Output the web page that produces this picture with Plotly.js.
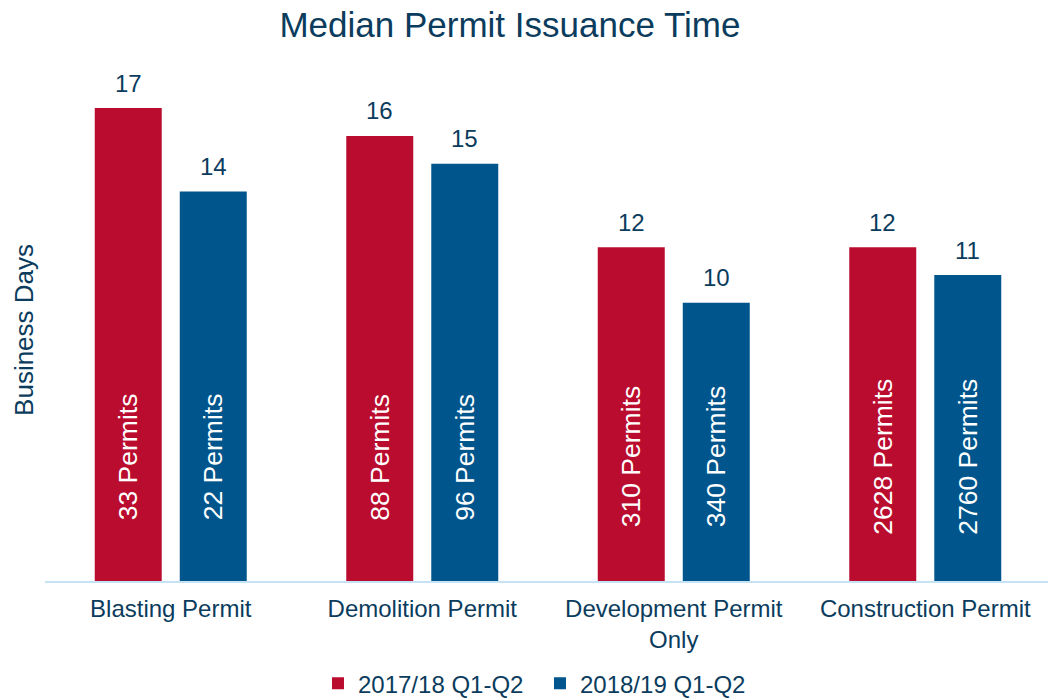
<!DOCTYPE html>
<html>
<head>
<meta charset="utf-8">
<script src="https://cdn.plot.ly/plotly-3.0.1.min.js"></script>
<style>html,body{margin:0;padding:0;background:#fff;}#chart{width:1048px;height:698px;}</style>
</head>
<body>
<div id="chart"></div>
<script>
const categories = ["Blasting Permit", "Demolition Permit", "Development Permit<br>Only", "Construction Permit"];
const seriesNames = ["2017/18 Q1-Q2", "2018/19 Q1-Q2"];
const days2017 = [17, 16, 12, 12];
const days2018 = [14, 15, 10, 11];
const permits2017 = [33, 88, 310, 2628];
const permits2018 = [22, 96, 340, 2760];

const RED = "#BA0C2F";
const BLUE = "#00558C";
const NAVY = "#0B3C5D";
const FONT = "Liberation Sans, Arial, sans-serif";

const traces = [
  {type: "bar", name: seriesNames[0], x: categories, y: days2017, marker: {color: RED}, hoverinfo: "y"},
  {type: "bar", name: seriesNames[1], x: categories, y: days2018, marker: {color: BLUE}, hoverinfo: "y"}
];

const annotations = [];
const offs = [-42.5, 42.5];
[[days2017, permits2017], [days2018, permits2018]].forEach(([vals, perms], s) => {
  categories.forEach((c, i) => {
    annotations.push({
      x: c, y: vals[i], xref: "x", yref: "y", xshift: offs[s], yshift: 25,
      text: String(vals[i]), showarrow: false, yanchor: "middle", xanchor: "center",
      font: {family: FONT, size: 24, color: NAVY}
    });
    annotations.push({
      x: c, y: 0.238, xref: "x", yref: "paper", xshift: offs[s],
      text: perms[i] + " Permits", showarrow: false, textangle: -90,
      yanchor: "middle", xanchor: "center",
      font: {family: FONT, size: 26.5, color: "#ffffff"}
    });
  });
});
annotations.push({
  text: "Business Days", xref: "paper", yref: "paper", x: -0.0209, y: 0.482,
  xanchor: "center", yanchor: "middle", textangle: -90, showarrow: false,
  font: {family: FONT, size: 26, color: NAVY}
});

const layout = {
  width: 1048, height: 698,
  margin: {l: 45, r: 0, t: 60, b: 117, autoexpand: false},
  paper_bgcolor: "#ffffff", plot_bgcolor: "#ffffff",
  font: {family: FONT, color: NAVY, size: 24},
  title: {text: "Median Permit Issuance Time", x: 0.4866, xref: "container", xanchor: "center",
          y: 0.964, yref: "container", yanchor: "middle", font: {family: FONT, size: 35, color: NAVY}},
  barmode: "group", bargap: 0.324, bargroupgap: 0.212,
  xaxis: {type: "category", range: [-0.5, 3.488], showline: true, linecolor: "#C6E2F5", linewidth: 2,
          showgrid: false, ticks: "", tickangle: 0, ticklabelstandoff: 5, tickfont: {family: FONT, size: 24, color: NAVY}, fixedrange: true},
  yaxis: {range: [0, 18.73], showgrid: false, zeroline: false, showline: false, showticklabels: false, ticks: ""},
  showlegend: true,
  legend: {orientation: "h", x: 0.4935, xanchor: "center", xref: "paper", y: -0.197, yanchor: "middle", yref: "paper",
           entrywidth: 177, entrywidthmode: "pixels",
           font: {family: FONT, size: 24, color: NAVY}, traceorder: "normal"},
  annotations: annotations
};

Plotly.newPlot("chart", traces, layout, {displayModeBar: false, staticPlot: true});
</script>
</body>
</html>
